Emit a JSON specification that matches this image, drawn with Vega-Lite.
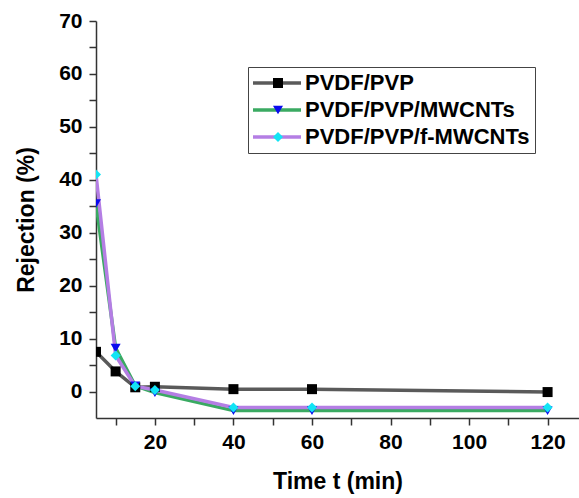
{
  "$schema": "https://vega.github.io/schema/vega-lite/v6.json",
  "width": 483,
  "height": 397,
  "autosize": {"type": "none"},
  "padding": {"left": 96, "top": 21, "right": 0, "bottom": 80},
  "background": "white",
  "config": {
    "view": {"stroke": null},
    "font": "Liberation Sans",
    "axis": {
      "domainColor": "#333333",
      "domainWidth": 1.5,
      "tickColor": "#333333",
      "tickWidth": 1.5,
      "tickSize": 7,
      "grid": false,
      "labelFont": "Liberation Sans",
      "labelFontSize": 21,
      "labelFontWeight": "bold",
      "labelColor": "black",
      "titleFont": "Liberation Sans",
      "titleFontSize": 23,
      "titleFontWeight": "bold",
      "titleColor": "black"
    }
  },
  "data": {
    "values": [
      {"sample": "PVDF/PVP", "t": 5, "rejection": 7.5},
      {"sample": "PVDF/PVP", "t": 10, "rejection": 3.8},
      {"sample": "PVDF/PVP", "t": 15, "rejection": 0.8},
      {"sample": "PVDF/PVP", "t": 20, "rejection": 0.9},
      {"sample": "PVDF/PVP", "t": 40, "rejection": 0.45},
      {"sample": "PVDF/PVP", "t": 60, "rejection": 0.45},
      {"sample": "PVDF/PVP", "t": 120, "rejection": -0.1},
      {"sample": "PVDF/PVP/MWCNTs", "t": 5, "rejection": 35.5},
      {"sample": "PVDF/PVP/MWCNTs", "t": 10, "rejection": 8.2},
      {"sample": "PVDF/PVP/MWCNTs", "t": 15, "rejection": 1.1},
      {"sample": "PVDF/PVP/MWCNTs", "t": 20, "rejection": -0.2},
      {"sample": "PVDF/PVP/MWCNTs", "t": 40, "rejection": -3.6},
      {"sample": "PVDF/PVP/MWCNTs", "t": 60, "rejection": -3.6},
      {"sample": "PVDF/PVP/MWCNTs", "t": 120, "rejection": -3.6},
      {"sample": "PVDF/PVP/f-MWCNTs", "t": 5, "rejection": 41},
      {"sample": "PVDF/PVP/f-MWCNTs", "t": 10, "rejection": 6.8},
      {"sample": "PVDF/PVP/f-MWCNTs", "t": 15, "rejection": 1.0},
      {"sample": "PVDF/PVP/f-MWCNTs", "t": 20, "rejection": 0.3},
      {"sample": "PVDF/PVP/f-MWCNTs", "t": 40, "rejection": -3.0},
      {"sample": "PVDF/PVP/f-MWCNTs", "t": 60, "rejection": -3.0},
      {"sample": "PVDF/PVP/f-MWCNTs", "t": 120, "rejection": -3.0}
    ]
  },
  "encoding": {
    "x": {
      "field": "t",
      "type": "quantitative",
      "scale": {"domain": [5, 128], "nice": false, "zero": false},
      "axis": {
        "title": "Time t (min)",
        "values": [10, 20, 30, 40, 50, 60, 70, 80, 90, 100, 110, 120],
        "labelExpr": "datum.value % 20 === 0 ? datum.label : ''",
        "labelPadding": 6,
        "titlePadding": 18,
        "labelFlush": false,
        "labelOverlap": false
      }
    },
    "y": {
      "field": "rejection",
      "type": "quantitative",
      "scale": {"domain": [-5, 70], "nice": false, "zero": false},
      "axis": {
        "title": "Rejection (%)",
        "values": [0, 5, 10, 15, 20, 25, 30, 35, 40, 45, 50, 55, 60, 65, 70],
        "labelExpr": "datum.value % 10 === 0 ? datum.label : ''",
        "labelPadding": 7,
        "titlePadding": 20,
        "labelFlush": false,
        "labelOverlap": false
      }
    }
  },
  "layer": [
    {
      "mark": {"type": "line", "strokeWidth": 3.5, "clip": true},
      "encoding": {
        "color": {
          "field": "sample",
          "type": "nominal",
          "scale": {
            "domain": ["PVDF/PVP", "PVDF/PVP/MWCNTs", "PVDF/PVP/f-MWCNTs"],
            "range": ["#5a5a5a", "#3aaa62", "#b47ee4"]
          },
          "legend": {
            "title": null,
            "orient": "none",
            "legendX": 152,
            "legendY": 46,
            "symbolType": "M-4,0H4",
            "symbolSize": 144,
            "symbolStrokeWidth": 3.5,
            "symbolFillColor": "transparent",
            "symbolOffset": 13,
            "labelFont": "Liberation Sans",
            "labelFontSize": 22,
            "labelFontWeight": "bold",
            "labelColor": "black",
            "labelOffset": 17,
            "labelLimit": 400,
            "rowPadding": 5,
            "padding": 5,
            "strokeColor": "#444444",
            "fillColor": "white"
          }
        }
      }
    },
    {
      "mark": {"type": "point", "filled": true, "opacity": 1, "strokeWidth": 0, "clip": true},
      "encoding": {
        "fill": {
          "field": "sample",
          "type": "nominal",
          "scale": {"range": ["#000000", "#0a0aee", "#12e4f4"]},
          "legend": {
            "title": null,
            "orient": "none",
            "legendX": 152,
            "legendY": 46,
            "symbolSize": 100,
            "symbolStrokeWidth": 0,
            "symbolOffset": 14,
            "labelExpr": "' '",
            "labelFontSize": 22,
            "labelFontWeight": "bold",
            "labelColor": "transparent",
            "rowPadding": 5,
            "padding": 5
          }
        },
        "shape": {
          "field": "sample",
          "type": "nominal",
          "scale": {"range": ["square", "triangle-down", "diamond"]},
          "legend": {
            "title": null,
            "orient": "none",
            "legendX": 152,
            "legendY": 46,
            "symbolSize": 100,
            "symbolStrokeWidth": 0,
            "symbolOffset": 14,
            "labelExpr": "' '",
            "labelFontSize": 22,
            "labelFontWeight": "bold",
            "labelColor": "transparent",
            "rowPadding": 5,
            "padding": 5
          }
        },
        "size": {"value": 100}
      }
    }
  ]
}
